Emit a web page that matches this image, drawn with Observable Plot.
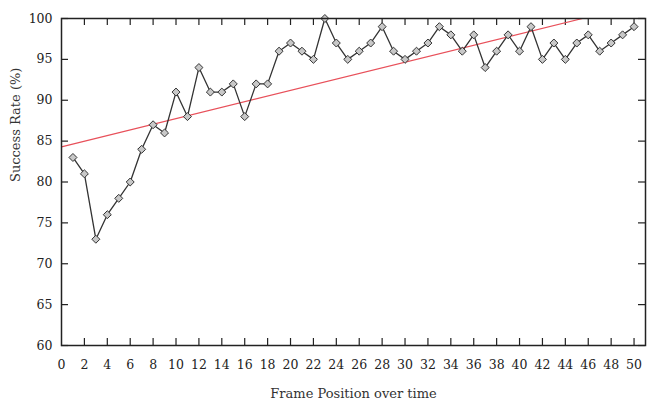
<!DOCTYPE html>
<html>
<head>
<meta charset="utf-8">
<script src="https://cdn.jsdelivr.net/npm/d3@7"></script>
<script src="https://cdn.jsdelivr.net/npm/@observablehq/plot@0.6"></script>
<style>
  html, body { margin: 0; padding: 0; background: #fff; }
  #chart { width: 647px; height: 409px; }
</style>
</head>
<body>
<div id="chart"></div>
<script>
const frames = d3.range(1, 51);
const successRate = [83, 81, 73, 76, 78, 80, 84, 87, 86, 91,
                     88, 94, 91, 91, 92, 88, 92, 92, 96, 97,
                     96, 95, 100, 97, 95, 96, 97, 99, 96, 95,
                     96, 97, 99, 98, 96, 98, 94, 96, 98, 96,
                     99, 95, 97, 95, 97, 98, 96, 97, 98, 99];
const trendX = [0, 45.5];
const trendY = [84.3, 100];
const xTicks = d3.range(0, 51, 2);
const yTicks = d3.range(60, 101, 5);

const data = frames.map((f, i) => ({x: f, y: successRate[i]}));
const trend = trendX.map((x, i) => ({x, y: trendY[i]}));

const W = 647, H = 409;
const mt = 18, mb = 64, ml = 61, mr = 2;
const ph = H - mt - mb, pw = W - ml - mr;
const tl = 7;
const font = "'DejaVu Serif', 'Liberation Serif', serif";

const chart = Plot.plot({
  width: W, height: H,
  marginTop: mt, marginBottom: mb, marginLeft: ml, marginRight: mr,
  style: {fontFamily: font, fontSize: "12.5px", color: "#222", background: "#fff"},
  x: {domain: [0, 51]},
  y: {domain: [60, 100]},
  marks: [
    Plot.axisX({ticks: xTicks, tickSize: 0, tickPadding: 15, label: null, fontSize: 12.5, tickFormat: d => String(d)}),
    Plot.axisY({ticks: yTicks, tickSize: 0, tickPadding: 9, label: null, fontSize: 12.5}),
    Plot.tickX(xTicks.filter(d => d > 0), {x: d => d, insetTop: ph - tl, stroke: "#222", strokeWidth: 1.2}),
    Plot.tickX(xTicks.filter(d => d > 0), {x: d => d, insetBottom: ph - tl, stroke: "#222", strokeWidth: 1.2}),
    Plot.tickY(yTicks, {y: d => d, insetRight: pw - tl, stroke: "#222", strokeWidth: 1.2}),
    Plot.tickY(yTicks, {y: d => d, insetLeft: pw - tl, stroke: "#222", strokeWidth: 1.2}),
    Plot.line(trend, {x: "x", y: "y", stroke: "#e8505a", strokeWidth: 1.2, clip: true}),
    Plot.line(data, {x: "x", y: "y", stroke: "#333", strokeWidth: 1.3}),
    Plot.dot(data, {x: "x", y: "y", symbol: "diamond2", r: 3.6, fill: "#c8c8c8", stroke: "#333", strokeWidth: 1}),
    Plot.frame({stroke: "#222", strokeWidth: 1.5}),
    Plot.text(["Frame Position over time"], {frameAnchor: "bottom", dy: 52, fontSize: 13, fill: "#333"}),
    Plot.text(["Success Rate (%)"], {frameAnchor: "left", dx: -46, rotate: -90, fontSize: 13, fill: "#333"})
  ]
});
document.getElementById("chart").appendChild(chart);
</script>
</body>
</html>
